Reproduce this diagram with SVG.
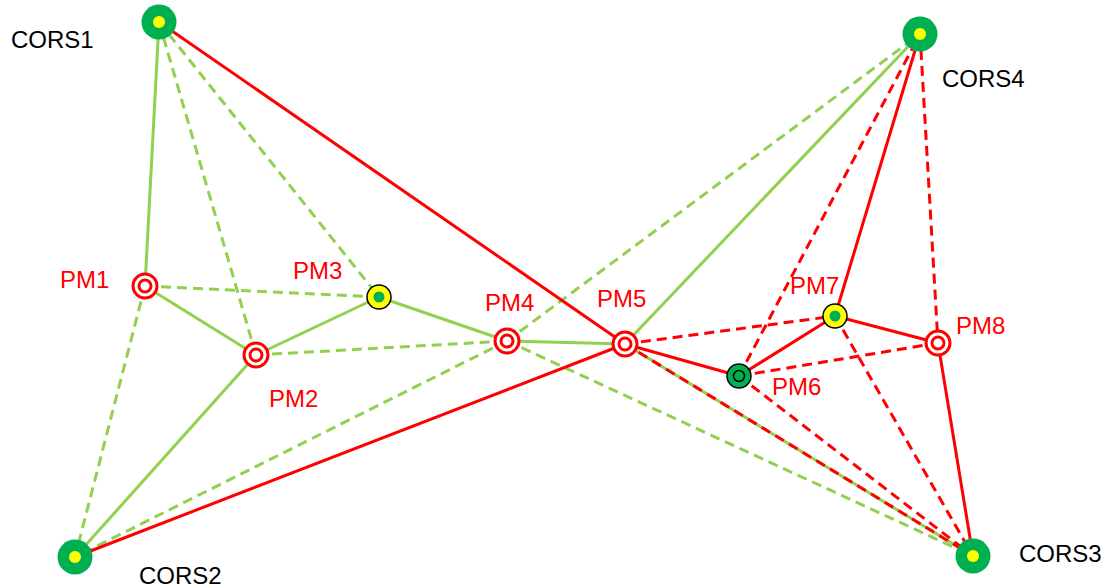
<svg xmlns="http://www.w3.org/2000/svg" width="1111" height="587" viewBox="0 0 1111 587">
<style>
.gs{stroke:#92D050;stroke-width:3;fill:none}
.gd{stroke:#92D050;stroke-width:3;fill:none;stroke-dasharray:10 6}
.rs{stroke:#FF0000;stroke-width:3;fill:none}
.rd{stroke:#FF0000;stroke-width:3;fill:none;stroke-dasharray:10 6}
.cors{fill:#00B050}
.cin{fill:#FFFF00}
.pmo{fill:#fff;stroke:#FF0000;stroke-width:3}
.yo{fill:#FFFF00;stroke:#000;stroke-width:1.5}
.gi{fill:#00B050}
.go{fill:#00B050;stroke:#000;stroke-width:1.5}
.gri{fill:none;stroke:#000;stroke-width:1.5}
.lb{font-family:"Liberation Sans",Arial,sans-serif;font-size:24px;fill:#000}
.lr{font-family:"Liberation Sans",Arial,sans-serif;font-size:24px;fill:#FF0000}
</style>
<rect width="1111" height="587" fill="#fff"/>
<g id="connectors">
<line class="gs" x1="159" y1="22" x2="145" y2="286"/>
<line class="gs" x1="145" y1="286" x2="256" y2="355"/>
<line class="gs" x1="256" y1="355" x2="379" y2="297"/>
<line class="gs" x1="379" y1="297" x2="507" y2="341"/>
<line class="gs" x1="507" y1="341" x2="625" y2="344"/>
<line class="gs" x1="256" y1="355" x2="75" y2="557"/>
<line class="gs" x1="625" y1="344" x2="920" y2="34"/>
<line class="gs" x1="625" y1="344" x2="973" y2="556"/>
<line class="gd" x1="159" y1="22" x2="256" y2="355"/>
<line class="gd" x1="159" y1="22" x2="379" y2="297"/>
<line class="gd" x1="145" y1="286" x2="379" y2="297"/>
<line class="gd" x1="145" y1="286" x2="75" y2="557"/>
<line class="gd" x1="256" y1="355" x2="507" y2="341"/>
<line class="gd" x1="507" y1="341" x2="75" y2="557"/>
<line class="gd" x1="507" y1="341" x2="920" y2="34"/>
<line class="gd" x1="507" y1="341" x2="973" y2="556"/>
<line class="rs" x1="159" y1="22" x2="625" y2="344"/>
<line class="rs" x1="75" y1="557" x2="625" y2="344"/>
<line class="rs" x1="625" y1="344" x2="739" y2="376"/>
<line class="rs" x1="739" y1="376" x2="835" y2="316"/>
<line class="rs" x1="835" y1="316" x2="920" y2="34"/>
<line class="rs" x1="835" y1="316" x2="938" y2="343"/>
<line class="rs" x1="938" y1="343" x2="973" y2="556"/>
<line class="rd" x1="625" y1="344" x2="835" y2="316"/>
<line class="rd" x1="625" y1="344" x2="973" y2="556"/>
<line class="rd" x1="739" y1="376" x2="920" y2="34"/>
<line class="rd" x1="920" y1="34" x2="938" y2="343"/>
<line class="rd" x1="739" y1="376" x2="938" y2="343"/>
<line class="rd" x1="835" y1="316" x2="973" y2="556"/>
<line class="rd" x1="739" y1="376" x2="973" y2="556"/>
</g>
<g id="CORS1"><circle class="cors" cx="159" cy="22" r="17.5"/><circle class="cin" cx="159" cy="22" r="6"/><text class="lb" x="11" y="48">CORS1</text></g>
<g id="CORS2"><circle class="cors" cx="75" cy="557" r="17.5"/><circle class="cin" cx="75" cy="557" r="6"/><text class="lb" x="139" y="584">CORS2</text></g>
<g id="CORS3"><circle class="cors" cx="973" cy="556" r="17.5"/><circle class="cin" cx="973" cy="556" r="6"/><text class="lb" x="1019" y="562">CORS3</text></g>
<g id="CORS4"><circle class="cors" cx="920" cy="34" r="17.5"/><circle class="cin" cx="920" cy="34" r="6"/><text class="lb" x="942" y="87">CORS4</text></g>
<g id="PM1"><circle class="pmo" cx="145" cy="286" r="12"/><circle class="pmo" cx="145" cy="286" r="6"/><text class="lr" x="60" y="288">PM1</text></g>
<g id="PM2"><circle class="pmo" cx="256" cy="355" r="12"/><circle class="pmo" cx="256" cy="355" r="6"/><text class="lr" x="269" y="407">PM2</text></g>
<g id="PM3"><circle class="yo" cx="379" cy="297" r="12"/><circle class="gi" cx="379" cy="297" r="5.5"/><text class="lr" x="293" y="279">PM3</text></g>
<g id="PM4"><circle class="pmo" cx="507" cy="341" r="12"/><circle class="pmo" cx="507" cy="341" r="6"/><text class="lr" x="485" y="311">PM4</text></g>
<g id="PM5"><circle class="pmo" cx="625" cy="344" r="12"/><circle class="pmo" cx="625" cy="344" r="6"/><text class="lr" x="597" y="307">PM5</text></g>
<g id="PM6"><circle class="go" cx="739" cy="376" r="12"/><circle class="gri" cx="739" cy="376" r="5.5"/><text class="lr" x="772" y="395">PM6</text></g>
<g id="PM7"><circle class="yo" cx="835" cy="316" r="12"/><circle class="gi" cx="835" cy="316" r="5.5"/><text class="lr" x="790" y="294">PM7</text></g>
<g id="PM8"><circle class="pmo" cx="938" cy="343" r="12"/><circle class="pmo" cx="938" cy="343" r="6"/><text class="lr" x="956" y="334">PM8</text></g>
</svg>
